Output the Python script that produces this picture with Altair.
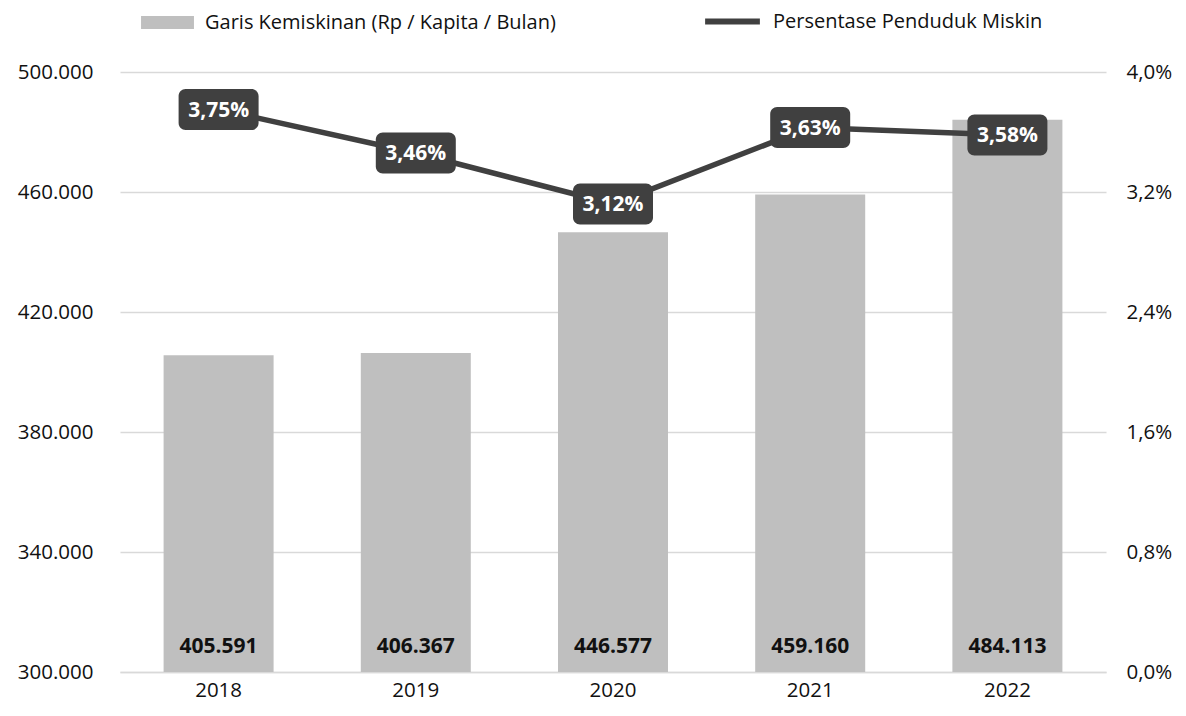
import altair as alt
import pandas as pd

years = ["2018", "2019", "2020", "2021", "2022"]
garis = [405591, 406367, 446577, 459160, 484113]
persen = [3.75, 3.46, 3.12, 3.63, 3.58]
left_ticks = [300000, 340000, 380000, 420000, 460000, 500000]
right_ticks = [0.0, 0.8, 1.6, 2.4, 3.2, 4.0]

bar_name = "Garis Kemiskinan (Rp / Kapita / Bulan)"
line_name = "Persentase Penduduk Miskin"

df = pd.DataFrame({
    "year": years,
    "garis": garis,
    "persen": persen,
    "glabel": [f"{v:,}".replace(",", ".") for v in garis],
    "plabel": [f"{p:.2f}".replace(".", ",") + "%" for p in persen],
    "bname": bar_name,
    "lname": line_name,
})

FONT = "Open Sans"
BAR_C = "#BFBFBF"
LINE_C = "#404040"
TXT = "#111111"

x = alt.X("year:N", title=None, sort=years,
          axis=alt.Axis(labelAngle=0, labelFontSize=20.5, labelPadding=8, ticks=False,
                        domainColor="#D9D9D9", domainWidth=1.5, labelColor=TXT,
                        labelFont=FONT),
          scale=alt.Scale(paddingInner=0.44, paddingOuter=0.22))

yl = alt.Y("garis:Q", title=None,
           scale=alt.Scale(domain=[300000, 500000], nice=False, zero=False),
           axis=alt.Axis(values=left_ticks, grid=True, gridColor="#D9D9D9", gridWidth=1.5,
                         domain=False, ticks=False, labelFontSize=20.5, labelPadding=27,
                         labelColor=TXT, labelFont=FONT,
                         labelExpr="replace(format(datum.value, ',.0f'), ',', '.')"))

bars = alt.Chart(df).mark_bar(size=110).encode(
    x=x, y=yl, y2=alt.datum(300000),
    color=alt.Color("bname:N", title=None,
                    scale=alt.Scale(domain=[bar_name], range=[BAR_C]),
                    legend=alt.Legend(orient="none", legendX=21, legendY=-76,
                                      symbolType="M-1,-0.25H1V0.25H-1Z", symbolSize=2800,
                                      labelFontSize=20, labelFont=FONT, labelColor=TXT,
                                      labelOffset=11, labelLimit=600, symbolStrokeWidth=0)),
)

bar_text = alt.Chart(df).mark_text(fontSize=21, fontWeight="bold", font=FONT,
                                   color=TXT, dy=-25).encode(
    x=x, y=alt.datum(300000), text="glabel:N")

left = alt.layer(bars, bar_text)

yr = alt.Y("persen:Q", title=None,
           scale=alt.Scale(domain=[0, 4], nice=False),
           axis=alt.Axis(orient="right", values=right_ticks, grid=False, domain=False,
                         ticks=False, labelFontSize=20.5, labelPadding=20,
                         labelColor=TXT, labelFont=FONT,
                         labelExpr="replace(format(datum.value, '.1f'), '.', ',') + '%'"))

line = alt.Chart(df).mark_line(strokeWidth=5.5).encode(
    x=x, y=yr,
    stroke=alt.Stroke("lname:N", title=None,
                      scale=alt.Scale(domain=[line_name], range=[LINE_C]),
                      legend=alt.Legend(orient="none", legendX=582, legendY=-81,
                                        symbolType="stroke", symbolSize=3000,
                                        symbolStrokeWidth=6,
                                        labelFontSize=20, labelFont=FONT, labelLimit=600,
                                        labelColor=TXT, labelOffset=10)),
)

boxes = alt.Chart(df).mark_rect(width=80, height=41, cornerRadius=7, color=LINE_C).encode(
    x=x, y=yr)

box_text = alt.Chart(df).mark_text(fontSize=21, fontWeight="bold", font=FONT,
                                   color="white", dy=1).encode(x=x, y=yr, text="plabel:N")

right = alt.layer(line, boxes, box_text)

chart = alt.layer(left, right).resolve_scale(y="independent", color="independent").properties(
    width=986, height=600,
    padding={"left": 112, "top": 64, "right": 72, "bottom": 36},
    autosize=alt.AutoSizeParams(type="none"),
).configure_view(stroke=None)

chart.save("out.html", embed_options={"renderer": "svg", "actions": False})
